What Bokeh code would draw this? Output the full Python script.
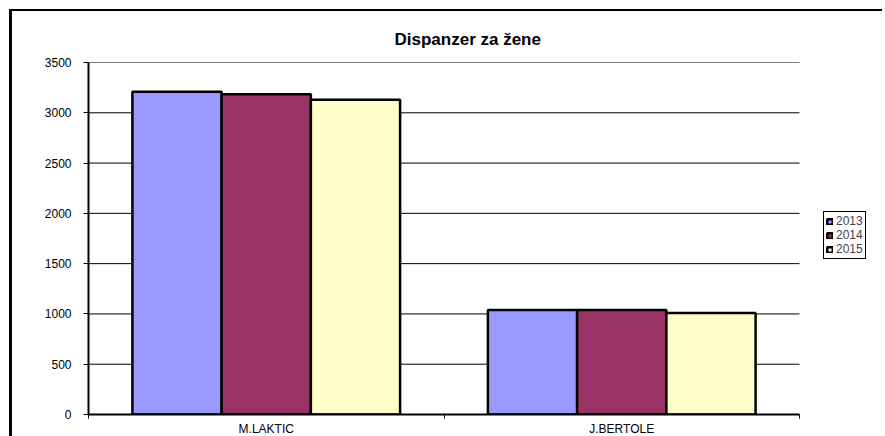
from bokeh.plotting import figure
from bokeh.models import (ColumnDataSource, FixedTicker, Legend, LegendItem, Range1d)
from bokeh.embed import file_html
from bokeh.resources import INLINE

title = "Dispanzer za žene"
categories = ["M.LAKTIC", "J.BERTOLE"]
years = ["2013", "2014", "2015"]
values_2013 = [3210, 1040]
values_2014 = [3185, 1040]
values_2015 = [3130, 1010]
colors = ["#9999FF", "#993366", "#FFFFCC"]
y_ticks = [0, 500, 1000, 1500, 2000, 2500, 3000, 3500]

series = [values_2013, values_2014, values_2015]
FONT = "Liberation Sans"

# layout (pixels)
W, H = 873, 427
LEFT, TOP, BOTTOM = 76, 51, 21
CAT_PX = 711          # width of the category area
FRAME_PX = 784        # frame extends right to hold the legend
RIGHT = W - LEFT - FRAME_PX
n = len(categories)
x_end = n * FRAME_PX / CAT_PX

p = figure(width=W, height=H, output_backend="svg", toolbar_location=None,
           x_range=Range1d(0, x_end), y_range=Range1d(0, 3500),
           min_border_left=LEFT, min_border_right=RIGHT, min_border_top=TOP,
           min_border_bottom=BOTTOM)
p.styles = {"border-left": "3px solid black", "border-top": "2px solid black",
            "margin-left": "9px", "margin-top": "9px"}

p.title.text = title
p.title.align = "left"
p.title.offset = 306
p.title.text_font = FONT
p.title.text_font_size = "17px"
p.title.text_font_style = "bold"
p.title.text_color = "black"
p.title.standoff = 28

# horizontal gridlines limited to the category area
p.segment(x0=[0] * len(y_ticks), x1=[n] * len(y_ticks), y0=y_ticks, y1=y_ticks,
          line_color="black", line_width=1)

bw = 0.251
renderers = []
for j, (yr, vals, col) in enumerate(zip(years, series, colors)):
    xs = [i + 0.5 + (j - 1) * bw for i in range(n)]
    src = ColumnDataSource(dict(x=xs, top=vals))
    r = p.vbar(x="x", top="top", width=bw, bottom=0, source=src, fill_color=col,
               line_color="black", line_width=2.5)
    renderers.append((yr, r))

p.outline_line_color = None
p.xgrid.visible = False
p.ygrid.visible = False

p.yaxis.ticker = FixedTicker(ticks=y_ticks)
p.yaxis.axis_line_width = 2
p.yaxis.axis_line_color = "black"
p.yaxis.major_tick_out = 5
p.yaxis.major_tick_in = 0
p.yaxis.minor_tick_line_color = None
p.yaxis.major_label_text_font = FONT
p.yaxis.major_label_text_font_size = "12px"
p.yaxis.major_label_text_color = "black"
p.yaxis.major_label_standoff = 12

p.xaxis.bounds = (0, n)
p.xaxis.ticker = FixedTicker(ticks=[i + 0.5 for i in range(n)],
                             minor_ticks=list(range(n + 1)))
p.xaxis.major_label_overrides = {i + 0.5: c for i, c in enumerate(categories)}
p.xaxis.major_tick_line_color = None
p.xaxis.minor_tick_out = 4
p.xaxis.minor_tick_in = 0
p.xaxis.minor_tick_line_color = "black"
p.xaxis.axis_line_width = 2
p.xaxis.axis_line_color = "black"
p.xaxis.major_label_text_font = FONT
p.xaxis.major_label_text_font_size = "12px"
p.xaxis.major_label_text_color = "black"
p.xaxis.major_label_standoff = 1

legend = Legend(items=[LegendItem(label=yr, renderers=[r]) for yr, r in renderers],
                location=(735, 155), border_line_color="black", border_line_width=1,
                border_line_alpha=1,
                label_text_font=FONT, label_text_font_size="12px",
                glyph_width=7, glyph_height=7, label_height=12, label_standoff=3,
                spacing=0, padding=2, margin=0, background_fill_alpha=1)
p.add_layout(legend, "center")

open("out.html", "w").write(file_html(p, INLINE))
